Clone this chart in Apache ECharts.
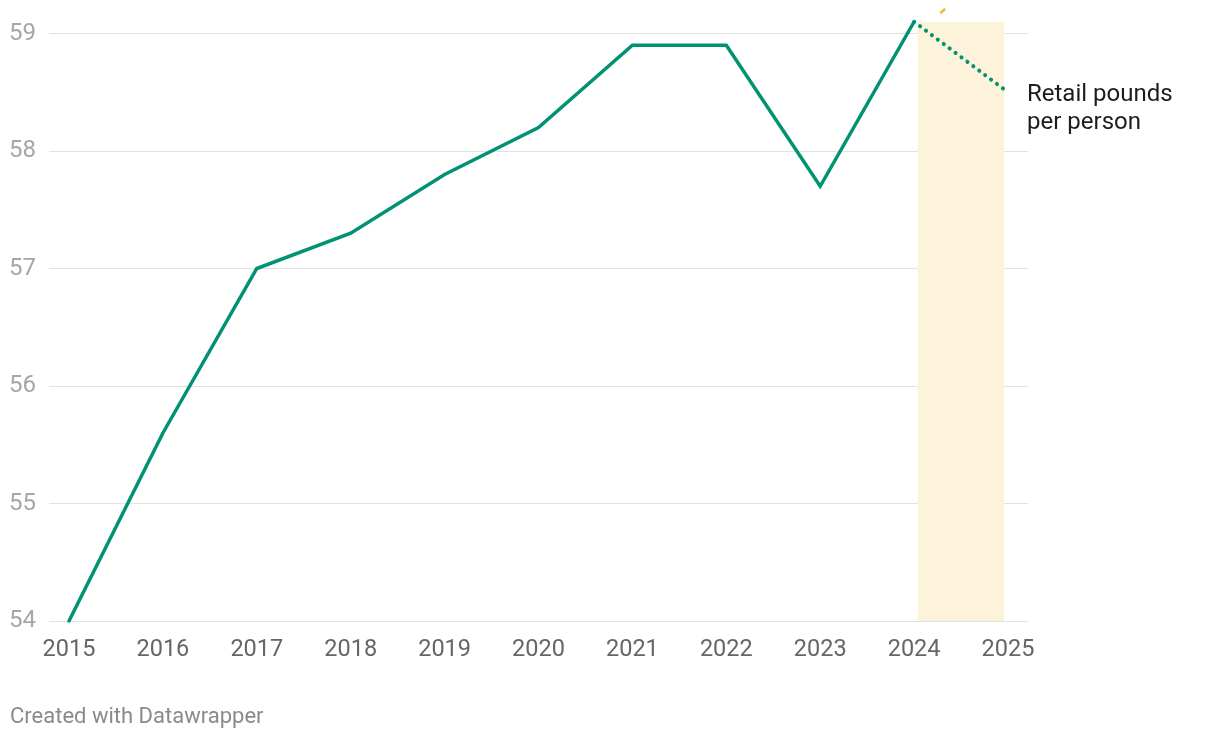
<!DOCTYPE html>
<html><head><meta charset="utf-8">
<script src="https://cdn.jsdelivr.net/npm/echarts@6/dist/echarts.min.js"></script>
<style>html,body{margin:0;padding:0;background:#fff}#c{width:1220px;height:738px}</style>
</head><body><div id="c"></div>
<script>
const years = [2015, 2016, 2017, 2018, 2019, 2020, 2021, 2022, 2023, 2024];
const pounds = [54.0, 55.6, 57.0, 57.3, 57.8, 58.2, 58.9, 58.9, 57.7, 59.1];
const forecastYears = [2024, 2025];
const forecastPounds = [59.1, 58.5];
const yTicks = [54, 55, 56, 57, 58, 59];
const shadeRange = [2024.04, 2024.96];
const shadeTop = 59.1;
const seriesLabel = 'Retail pounds\nper person';

const chart = echarts.init(document.getElementById('c'));
const green = '#009272';
const yMin = yTicks[0], yMax = yTicks[yTicks.length - 1];
const top0 = 33.5, bottom0 = 117;
const pxPerUnit = (738 - top0 - bottom0) / (yMax - yMin);
chart.setOption({
  animation: false,
  textStyle: {fontFamily: 'Roboto'},
  grid: [
    {left: 49, right: 192, top: top0, bottom: bottom0},
    {left: 69, right: 212, top: top0 - (shadeTop - yMax) * pxPerUnit, bottom: bottom0}
  ],
  xAxis: [
    {gridIndex: 0, type: 'value', min: 0, max: 1, show: false},
    {
      gridIndex: 1, type: 'value', min: 2015, max: 2025, interval: 1,
      axisLine: {show: false}, axisTick: {show: false}, splitLine: {show: false},
      axisLabel: {color: '#666', fontSize: 23.5, margin: 17, formatter: v => String(v)}
    }
  ],
  yAxis: [
    {
      gridIndex: 0, type: 'value', min: yMin, max: yMax, interval: 1,
      axisLine: {show: false}, axisTick: {show: false},
      splitLine: {lineStyle: {color: '#e2e2e2', width: 1}},
      axisLabel: {color: '#a6a6a6', fontSize: 24, margin: 13, padding: [5, 0, 0, 0]}
    },
    {gridIndex: 1, type: 'value', min: yMin, max: shadeTop, show: false, splitLine: {show: false}}
  ],
  series: [
    {
      type: 'line', xAxisIndex: 1, yAxisIndex: 1, clip: false, symbol: 'none',
      data: years.map((y, i) => [y, pounds[i]]),
      lineStyle: {color: green, width: 3.5, cap: 'round', join: 'miter'},
      markArea: {
        silent: true,
        itemStyle: {color: '#fdf2da'},
        data: [[{coord: [shadeRange[0], yMin]}, {coord: [shadeRange[1], shadeTop]}]]
      },
      z: 3
    },
    {
      type: 'line', xAxisIndex: 1, yAxisIndex: 1, clip: false, symbol: 'none',
      data: forecastYears.map((y, i) => [y, forecastPounds[i]]),
      lineStyle: {color: green, width: 4, type: [0.1, 7.3], cap: 'round'},
      endLabel: {
        show: true, formatter: seriesLabel, color: '#1d1d1d', fontSize: 24,
        lineHeight: 28, distance: 19, align: 'left', verticalAlign: 'middle', offset: [0, 17]
      },
      z: 3
    }
  ],
  graphic: [
    {type: 'text', left: 10, top: 706, style: {text: 'Created with Datawrapper', fill: '#8a8a8a', fontSize: 22, fontFamily: 'Roboto'}},
    {type: 'line', shape: {x1: 941, y1: 12.5, x2: 944.5, y2: 9.5}, style: {stroke: '#f5b731', lineWidth: 2.5, lineCap: 'round'}}
  ]
});
</script></body></html>
